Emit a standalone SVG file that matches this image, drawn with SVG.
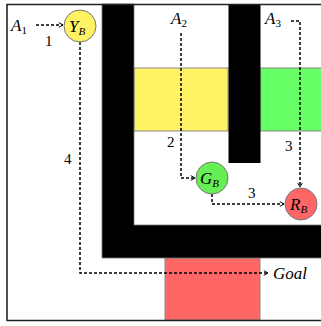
<svg xmlns="http://www.w3.org/2000/svg" width="321" height="326" viewBox="0 0 321 326">
<defs>
<marker id="arr" viewBox="0 0 10 10" refX="9" refY="5" markerWidth="6" markerHeight="6" markerUnits="userSpaceOnUse" orient="auto">
<path d="M2,1 L9,5 L2,9" fill="none" stroke="#000" stroke-width="1.6"/>
</marker>
</defs>
<style>
.lbl{font-family:"Liberation Serif",serif;font-style:italic;font-size:17px;fill:#000}
.sub{font-size:11px}
.num{font-family:"Liberation Serif",serif;font-size:15px;fill:#000}
.edge{fill:none;stroke:#000;stroke-width:1.5;stroke-dasharray:3,2}
.node{stroke:#777;stroke-width:1}
</style>
<rect x="0" y="0" width="321" height="326" fill="#fff"/>
<g id="scene">
<rect x="134" y="68" width="94" height="63" fill="#fff263" stroke="#888" stroke-width="1"/>
<rect x="260" y="68" width="70" height="63" fill="#66ff66" stroke="#888" stroke-width="1"/>
<rect x="165" y="258" width="95" height="62" fill="#ff6666" stroke="#888" stroke-width="1"/>
<path d="M102,4 H134 V225 H330 V258 H102 Z" fill="#000" stroke="#777" stroke-width="0.8"/>
<rect x="228.5" y="4" width="32" height="159" fill="#000"/>
<path d="M7,321 V4.5 H330 M7,320.5 H330" fill="none" stroke="#222" stroke-width="1.6"/>
</g>
<g id="connectors">
<path class="edge" d="M36,25 H63" marker-end="url(#arr)"/>
<path class="edge" d="M80,42 V273 H268" marker-end="url(#arr)"/>
<path class="edge" d="M181,33 V178 H195" marker-end="url(#arr)"/>
<path class="edge" d="M291,21 H300 V187" marker-end="url(#arr)"/>
<path class="edge" d="M212,194 V204 H284" marker-end="url(#arr)"/>
<text class="num" x="45" y="46">1</text>
<text class="num" x="64" y="164">4</text>
<text class="num" x="167" y="147">2</text>
<text class="num" x="285" y="151">3</text>
<text class="num" x="248" y="198">3</text>
</g>
<g id="A1"><text class="lbl" x="11" y="31">A<tspan class="sub" dy="3" font-style="normal">1</tspan></text></g>
<g id="A2"><text class="lbl" x="171" y="24">A<tspan class="sub" dy="3" font-style="normal">2</tspan></text></g>
<g id="A3"><text class="lbl" x="265" y="24">A<tspan class="sub" dy="3" font-style="normal">3</tspan></text></g>
<g id="YB"><circle class="node" cx="80" cy="26" r="16" fill="#fff263"/><text class="lbl" x="69" y="32">Y<tspan class="sub" dy="3">B</tspan></text></g>
<g id="GB"><circle class="node" cx="212" cy="178" r="16" fill="#66ee55"/><text class="lbl" x="200" y="184">G<tspan class="sub" dy="3">B</tspan></text></g>
<g id="RB"><circle class="node" cx="301" cy="204" r="16" fill="#ff6666"/><text class="lbl" x="290" y="210">R<tspan class="sub" dy="3">B</tspan></text></g>
<g id="Goal"><text class="lbl" x="273" y="279">Goal</text></g>
</svg>
